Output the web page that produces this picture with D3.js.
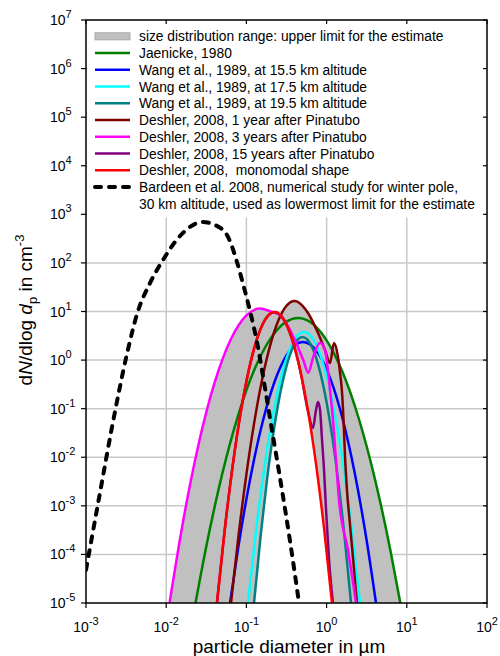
<!DOCTYPE html>
<html><head><meta charset="utf-8">
<script src="https://cdn.jsdelivr.net/npm/d3@7"></script>
<style>
body{margin:0;background:#fff}
svg{display:block}
text{font-family:"Liberation Sans",Arial,Helvetica,sans-serif;fill:#000}
</style>
</head><body>
<svg id="chart" width="500" height="656"></svg>
<script>
// ---------- data ----------
const xTickValues = [1e-3, 1e-2, 1e-1, 1, 10, 100];
const xTickExponents = ["-3", "-2", "-1", "0", "1", "2"];
const yTickValues = [1e-5, 1e-4, 1e-3, 1e-2, 1e-1, 1, 10, 100, 1e3, 1e4, 1e5, 1e6, 1e7];
const yTickExponents = ["-5", "-4", "-3", "-2", "-1", "0", "1", "2", "3", "4", "5", "6", "7"];

const seriesNames = [
  "Jaenicke, 1980",
  "Wang et al., 1989, at 15.5 km altitude",
  "Wang et al., 1989, at 17.5 km altitude",
  "Wang et al., 1989, at 19.5 km altitude",
  "Deshler, 2008, 1 year after Pinatubo",
  "Deshler, 2008, 3 years after Pinatubo",
  "Deshler, 2008, 15 years after Pinatubo",
  "Deshler, 2008,  monomodal shape"
];
const seriesColors = ["#008000", "#0000ff", "#00ffff", "#008080", "#800000", "#ff00ff", "#800080", "#ff0000"];
const rangeLabel = "size distribution range: upper limit for the estimate";
const bardeenLabel = ["Bardeen et al. 2008, numerical study for winter pole,",
                      "30 km altitude, used as lowermost limit for the estimate"];

// diameters in µm, dN/dlog dp in cm^-3
const jaenickeD = [0.0232, 0.0316, 0.0501, 0.0794, 0.1259, 0.1995, 0.3162, 0.4395, 0.631, 1.0, 1.585, 2.512, 3.981, 6.31, 8.30];
const jaenickeN = [1e-5, 1.456e-4, 4.62e-3, 0.0757, 0.638, 2.77, 6.2, 7.35, 5.99, 2.55, 0.561, 0.0635, 3.71e-3, 1.114e-4, 1e-5];

const wang155D = [0.0625, 0.0794, 0.1122, 0.1585, 0.2239, 0.3162, 0.398, 0.508, 0.631, 0.7943, 1.122, 1.585, 2.239, 3.162, 4.13];
const wang155N = [1e-5, 1.432e-4, 3.79e-3, 0.0513, 0.354, 1.249, 1.99, 2.355, 2.063, 1.342, 0.402, 0.0614, 4.79e-3, 1.91e-4, 1e-5];

const wang175D = [0.1047, 0.1318, 0.166, 0.2089, 0.263, 0.3311, 0.4169, 0.5224, 0.6607, 0.8318, 1.047, 1.318, 1.66, 2.089, 2.606];
const wang175N = [1e-5, 3.04e-4, 5.47e-3, 0.0581, 0.364, 1.346, 2.94, 3.78, 2.88, 1.291, 0.342, 0.0535, 4.93e-3, 2.68e-4, 1e-5];

const wang195D = [0.1245, 0.1514, 0.182, 0.2188, 0.263, 0.3162, 0.3802, 0.5012, 0.6607, 0.7943, 0.955, 1.148, 1.38, 1.66, 2.018];
const wang195N = [1e-5, 2.69e-4, 3.79e-3, 0.0344, 0.2, 0.753, 1.82, 2.985, 1.82, 0.753, 0.2, 0.0344, 3.79e-3, 2.69e-4, 1e-5];

const deshler1D = [0.0643, 0.0794, 0.1, 0.1259, 0.1585, 0.1995, 0.2512, 0.3162, 0.398, 0.5012, 0.586, 0.782, 0.955, 1.102, 1.236, 1.387, 1.469, 1.556, 1.626, 1.694, 1.795, 1.959, 2.134, 2.393];
const deshler1N = [1e-5, 2.29e-4, 4.45e-3, 0.0547, 0.427, 2.11, 6.61, 13.1, 16.4, 13.1, 9.31, 3.61, 1.61, 0.869, 2.24, 1.156, 0.568, 0.22, 0.0583, 0.0111, 2.11e-3, 4.03e-4, 8.4e-5, 1e-5];

const deshler3D = [0.01101, 0.01585, 0.0251, 0.0398, 0.0631, 0.1, 0.1479, 0.2, 0.2624, 0.3846, 0.5117, 0.5916, 0.6823, 0.8279, 0.955, 1.05, 1.102, 1.202, 1.309, 1.429, 1.849, 2.328];
const deshler3N = [1e-5, 3.81e-4, 0.0173, 0.326, 2.56, 8.36, 11.48, 10.0, 8.45, 3.03, 1.0, 0.55, 1.17, 2.28, 1.61, 0.535, 0.242, 0.0583, 8.8e-3, 1.31e-3, 1.23e-4, 1e-5];

const deshler15D = [0.04295, 0.0537, 0.0676, 0.0851, 0.1072, 0.1349, 0.1698, 0.2239, 0.2951, 0.3715, 0.4677, 0.5888, 0.676, 0.738, 0.782, 0.828, 0.877, 0.929, 0.984, 1.072, 1.2];
const deshler15N = [1e-5, 3.24e-4, 6.9e-3, 0.0859, 0.625, 2.66, 6.62, 9.75, 6.62, 2.66, 0.625, 0.0859, 0.04, 0.094, 0.137, 0.094, 0.0226, 5.46e-3, 8.2e-4, 7.7e-5, 1e-5];

const deshlerMonoD = [0.04295, 0.0537, 0.0676, 0.0851, 0.1072, 0.1349, 0.1698, 0.2239, 0.2951, 0.3715, 0.4677, 0.5888, 0.7413, 0.9333, 1.167];
const deshlerMonoN = [1e-5, 3.24e-4, 6.9e-3, 0.0859, 0.625, 2.66, 6.62, 9.75, 6.62, 2.66, 0.625, 0.0859, 6.9e-3, 3.24e-4, 1e-5];

const bardeenD = [0.001, 0.0015, 0.00217, 0.00324, 0.00433, 0.00628, 0.00912, 0.01486, 0.0288, 0.0406, 0.0573, 0.0764, 0.0881, 0.111, 0.1355, 0.1706, 0.2085, 0.278, 0.35, 0.453];
const bardeenN = [4.8e-5, 1.92e-3, 0.0531, 1.334, 8.87, 38.5, 115, 358, 695, 603, 375, 104, 44.5, 10.2, 2.36, 0.266, 0.0363, 2.11e-3, 1.88e-4, 1e-5];

// ---------- build ----------
const seriesD = [jaenickeD, wang155D, wang175D, wang195D, deshler1D, deshler3D, deshler15D, deshlerMonoD];
const seriesN = [jaenickeN, wang155N, wang175N, wang195N, deshler1N, deshler3N, deshler15N, deshlerMonoN];
const series = seriesNames.map((name, i) => ({
  name, color: seriesColors[i],
  pts: seriesD[i].map((d, j) => ({d, n: seriesN[i][j]}))
}));
const bardeen = bardeenD.map((d, j) => ({d, n: bardeenN[j]}));

const L = 86, R = 487, T = 20, B = 603;
const svg = d3.select("#chart");
const x = d3.scaleLog().domain([1e-3, 1e2]).range([L, R]);
const y = d3.scaleLog().domain([1e-5, 1e7]).range([B, T]);

const defs = svg.append("defs");
defs.append("clipPath").attr("id", "plotClip")
  .append("rect").attr("x", L).attr("y", T).attr("width", R - L).attr("height", B - T);

const curve = d3.curveMonotoneX;
const line = d3.line().x(p => x(p.d)).y(p => y(p.n)).curve(curve);
const area = d3.area().x(p => x(p.d)).y0(y(1e-5)).y1(p => y(p.n)).curve(curve);

// grid
const grid = svg.append("g").attr("stroke", "#c8c8c8").attr("stroke-width", 1.5);
xTickValues.slice(1, -1).forEach(v => grid.append("line")
  .attr("x1", x(v)).attr("x2", x(v)).attr("y1", T).attr("y2", B));
yTickValues.slice(1, -1).forEach(v => grid.append("line")
  .attr("x1", L).attr("x2", R).attr("y1", y(v)).attr("y2", y(v)));

// size distribution range: union of areas (grey) minus intersection (white)
const plot = svg.append("g").attr("clip-path", "url(#plotClip)");
series.forEach(s => plot.append("path").attr("d", area(s.pts)).attr("fill", "#c0c0c0"));
series.forEach((s, i) => defs.append("clipPath").attr("id", "ac" + i).append("path").attr("d", area(s.pts)));
let g = plot;
series.forEach((s, i) => { g = g.append("g").attr("clip-path", `url(#ac${i})`); });
g.append("rect").attr("x", L).attr("y", T).attr("width", R - L).attr("height", B - T).attr("fill", "#fff");

// legend background
const legendTop = T + 1, legendBottom = 217.5;
svg.append("rect").attr("x", L + 1).attr("y", legendTop).attr("width", R - L - 2)
  .attr("height", legendBottom - legendTop).attr("fill", "#fff");

// curves
series.forEach(s => plot.append("path").attr("d", line(s.pts)).attr("fill", "none")
  .attr("stroke", s.color).attr("stroke-width", 2.5).attr("stroke-linejoin", "round"));
plot.append("path").attr("d", line(bardeen)).attr("fill", "none").attr("stroke", "#000")
  .attr("stroke-width", 4).attr("stroke-dasharray", "6,8").attr("stroke-linecap", "round");

// frame & ticks
svg.append("rect").attr("x", L).attr("y", T).attr("width", R - L).attr("height", B - T)
  .attr("fill", "none").attr("stroke", "#000").attr("stroke-width", 1.5);
const ticks = svg.append("g").attr("stroke", "#000").attr("stroke-width", 1.2);
yTickValues.forEach(v => {
  ticks.append("line").attr("x1", L - 5).attr("x2", L).attr("y1", y(v)).attr("y2", y(v));
  ticks.append("line").attr("x1", R - 4).attr("x2", R).attr("y1", y(v)).attr("y2", y(v));
});
xTickValues.forEach(v => {
  ticks.append("line").attr("x1", x(v)).attr("x2", x(v)).attr("y1", B).attr("y2", B + 5);
  ticks.append("line").attr("x1", x(v)).attr("x2", x(v)).attr("y1", T).attr("y2", T + 4);
});

// tick labels
yTickValues.forEach((v, i) => {
  const t = svg.append("text").attr("x", 50).attr("y", y(v) + 5).attr("font-size", 14);
  t.append("tspan").text("10");
  t.append("tspan").attr("dy", -7).attr("font-size", 11).text(yTickExponents[i]);
});
xTickValues.forEach((v, i) => {
  const t = svg.append("text").attr("x", x(v)).attr("y", 631.5).attr("font-size", 14).attr("text-anchor", "middle");
  t.append("tspan").text("10");
  t.append("tspan").attr("dy", -7).attr("font-size", 11).text(xTickExponents[i]);
});

// axis titles
svg.append("text").attr("x", 289).attr("y", 652.5).attr("font-size", 19).attr("text-anchor", "middle")
  .text("particle diameter in µm");
const yl = svg.append("text").attr("transform", "translate(32,310) rotate(-90)")
  .attr("font-size", 19).attr("text-anchor", "middle");
yl.append("tspan").text("d");
yl.append("tspan").attr("font-style", "italic").text("N");
yl.append("tspan").text("/dlog ");
yl.append("tspan").attr("font-style", "italic").text("d");
yl.append("tspan").attr("font-size", 13).attr("dy", 5).text("p");
yl.append("tspan").attr("dy", -5).text(" in cm");
yl.append("tspan").attr("font-size", 13).attr("dy", -8).text("-3");

// legend
const lx0 = 95, lx1 = 130, tx = 139, ly0 = 36.3, ldy = 16.75, lfs = 13.8;
const leg = svg.append("g");
leg.append("rect").attr("x", lx0).attr("y", ly0 - 3.5).attr("width", lx1 - lx0).attr("height", 7)
  .attr("fill", "#c0c0c0").attr("stroke", "#a8a8a8").attr("stroke-width", 1);
leg.append("text").attr("x", tx).attr("y", ly0 + 5).attr("font-size", lfs).text(rangeLabel);
series.forEach((s, i) => {
  const yy = ly0 + ldy * (i + 1);
  leg.append("line").attr("x1", lx0).attr("x2", lx1).attr("y1", yy).attr("y2", yy)
    .attr("stroke", s.color).attr("stroke-width", 2.5);
  leg.append("text").attr("x", tx).attr("y", yy + 5).attr("font-size", lfs)
    .style("white-space", "pre").text(s.name);
});
const yb = ly0 + ldy * 9;
leg.append("line").attr("x1", lx0).attr("x2", lx1).attr("y1", yb).attr("y2", yb)
  .attr("stroke", "#000").attr("stroke-width", 4).attr("stroke-dasharray", "6,8").attr("stroke-linecap", "round");
bardeenLabel.forEach((t, k) => leg.append("text").attr("x", tx).attr("y", yb + 5 + ldy * k)
  .attr("font-size", lfs).text(t));
</script>
</body></html>
